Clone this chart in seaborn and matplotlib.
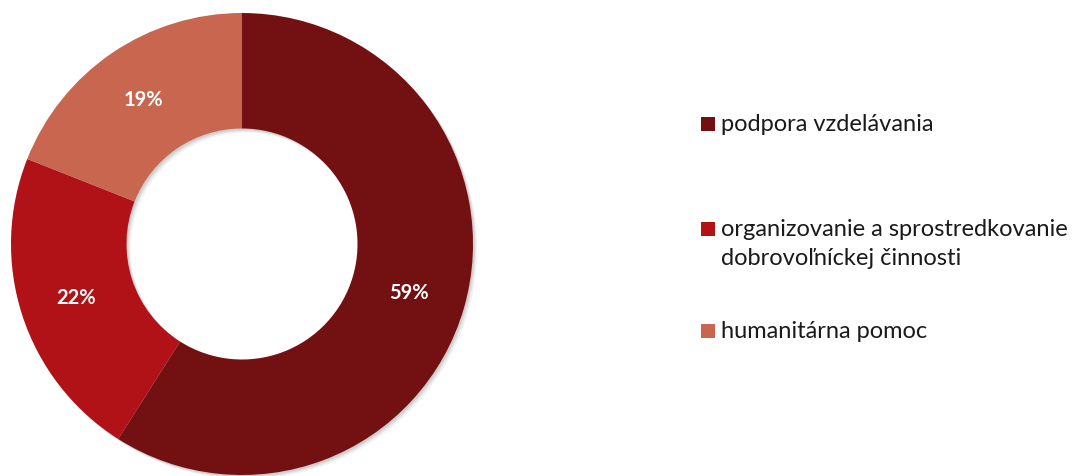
import matplotlib
matplotlib.use("Agg")
import matplotlib.pyplot as plt
import matplotlib.patches as mpatches
import seaborn as sns

# ── Data ──────────────────────────────────────────────────────────────────────
categories = [
    "podpora vzdelávania",
    "organizovanie a sprostredkovanie\ndobrovoľníckej činnosti",
    "humanitárna pomoc",
]
shares = [59, 22, 19]
colors = ["#731012", "#B01218", "#C96650"]

sns.set_theme(style="white")
plt.rcParams["font.family"] = ["Lato", "DejaVu Sans"]

W, H = 1088, 476
fig = plt.figure(figsize=(W / 100, H / 100), dpi=100)

# donut axes: square of 2*231 px centred at (242, 244) from top-left
R = 231
cx, cy = 242, H - 244
ax = fig.add_axes([(cx - R) / W, (cy - R) / H, 2 * R / W, 2 * R / H])
ax.set_xlim(-1, 1)
ax.set_ylim(-1, 1)
ax.set_aspect("equal")
ax.axis("off")

# soft shadow behind the ring
for off, a in [(0.018, 0.10), (0.012, 0.14), (0.007, 0.18)]:
    ax.pie([1], radius=1, colors=["#808080"], center=(off, -off),
           wedgeprops=dict(width=0.5, alpha=a, linewidth=0), frame=False)

total = sum(shares)
wedges, _, autotexts = ax.pie(
    shares,
    colors=sns.color_palette(colors),
    startangle=90,
    counterclock=False,
    radius=1,
    autopct=lambda p: f"{round(p * total / 100)}%",
    pctdistance=0.755,
    wedgeprops=dict(width=0.5, linewidth=0),
    textprops=dict(color="white", fontsize=14.5, fontweight="bold"),
)
ax.set_xlim(-1, 1)
ax.set_ylim(-1, 1)

# legend entries, Excel style (marker aligned with first text line)
legend_y = [124, 229, 331]
for lab, col, y in zip(categories, colors, legend_y):
    fig.patches.append(mpatches.Rectangle(
        (701 / W, 1 - (y + 7) / H), 14 / W, 14 / H,
        transform=fig.transFigure, facecolor=col, edgecolor="none"))
    fig.text(721 / W, 1 - (y - 10) / H, lab, ha="left", va="top",
             fontsize=17, color="#1a1a1a", linespacing=1.5)

fig.savefig("out.png", dpi=100)
